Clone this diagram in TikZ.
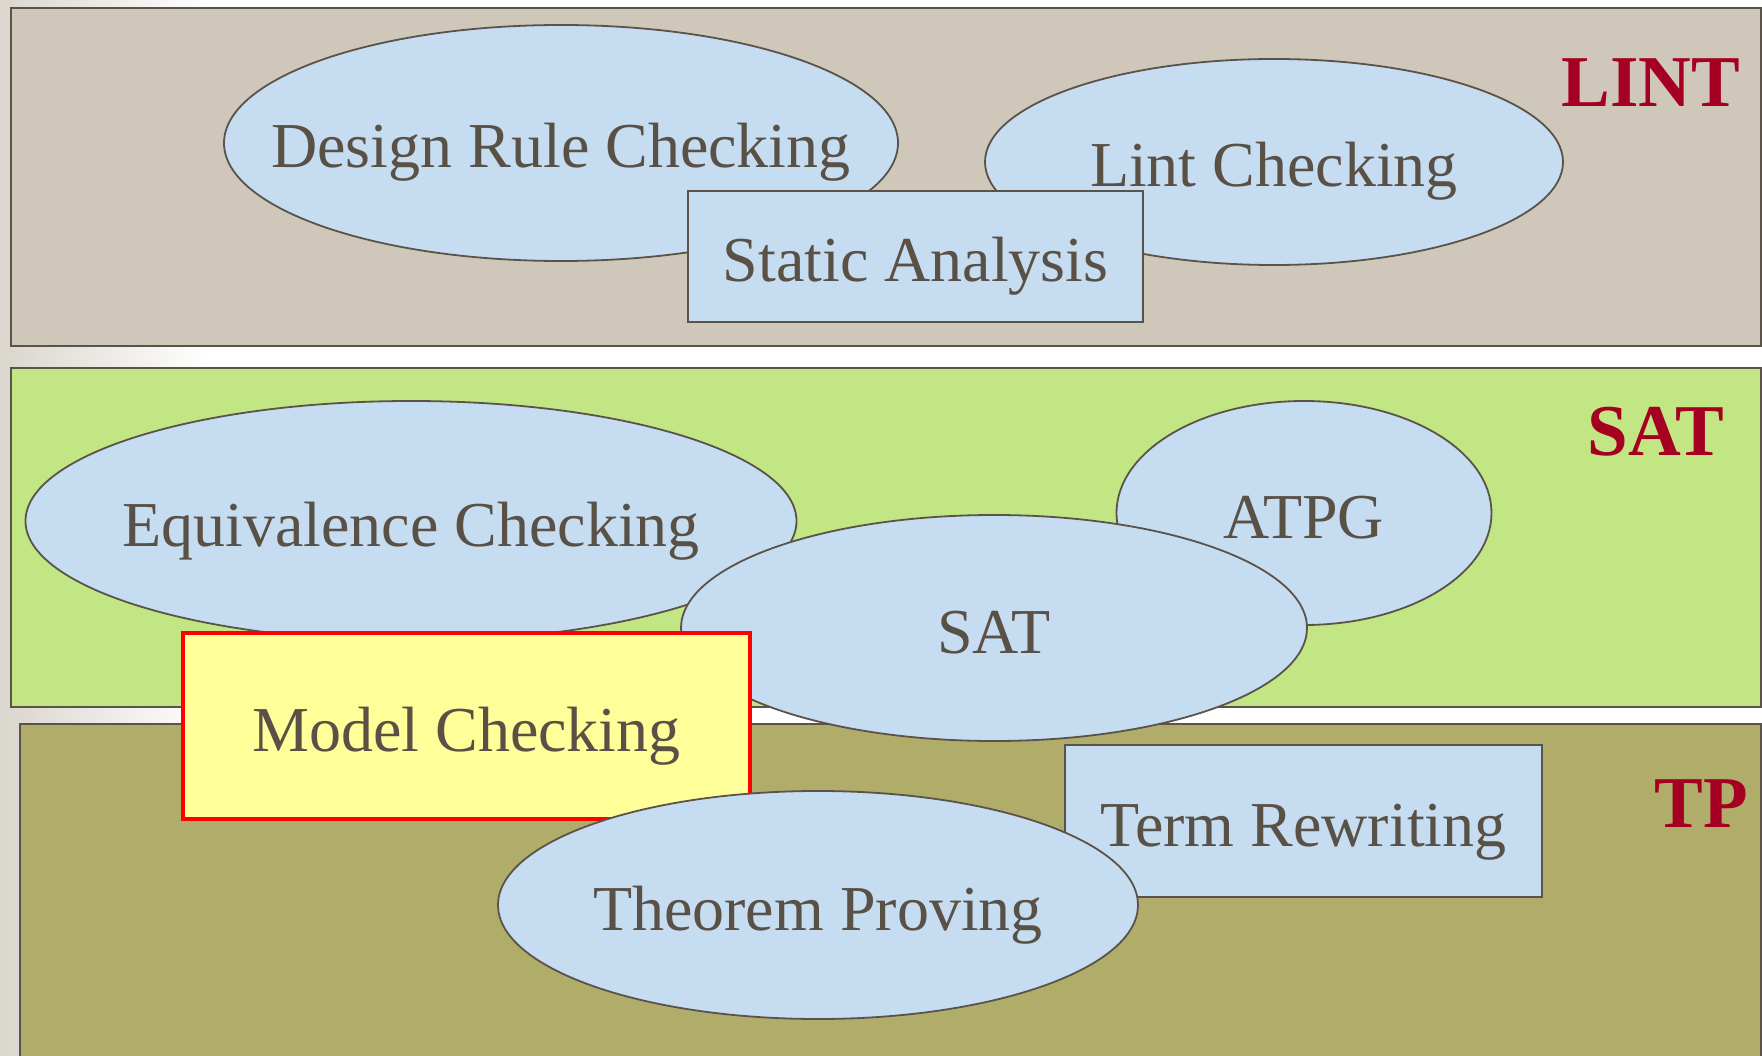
\documentclass[tikz,border=0pt]{standalone}
\usepackage{fontspec}
\setmainfont{Liberation Serif}
\usetikzlibrary{shapes.geometric}

\definecolor{gris}{HTML}{DAD6CE}
\definecolor{lintfondo}{HTML}{CFC8BA}
\definecolor{satfondo}{HTML}{C2E684}
\definecolor{tpfondo}{HTML}{B0AD6B}
\definecolor{azul}{HTML}{C6DCF0}
\definecolor{amarillo}{HTML}{FFFF99}
\definecolor{borde}{HTML}{5B534A}
\definecolor{texto}{HTML}{595046}
\definecolor{rojo}{HTML}{A50021}

\tikzset{
  banda/.style={draw=borde, line width=1.8pt},
  burbuja/.style={ellipse, draw=borde, fill=azul, line width=1.8pt, inner sep=0pt,
    text=texto, font=\fontsize{64}{70}\selectfont, text height=50pt, text depth=0pt},
  caja/.style={rectangle, draw=borde, fill=azul, line width=1.8pt, inner sep=0pt,
    text=texto, font=\fontsize{64}{70}\selectfont, text height=50pt, text depth=0pt},
  marca/.style={text=rojo, font=\bfseries\fontsize{73}{80}\selectfont, inner sep=0pt, anchor=base}
}

\begin{document}
\begin{tikzpicture}[x=1pt, y=-1pt]
    \useasboundingbox (0,0) rectangle (1762,1056);

    % Fondo
    \fill[white] (0,0) rectangle (1762,1056);
    \shade[left color=gris, right color=white] (0,0) rectangle (210,1056);
    \shade[left color=gris, right color=gris!60] (0,0) rectangle (86,8);

    % Banda LINT
    \draw[banda, fill=lintfondo] (11,8) rectangle (1761,346);
    \node[marca] (lint) at (1651,107) {LINT};

    % Banda SAT
    \draw[banda, fill=satfondo] (11,368) rectangle (1761,707);
    \node[marca] (sat) at (1656,455) {SAT};

    % Banda TP
    \draw[banda, fill=tpfondo] (20,724) rectangle (1761,1062);
    \node[marca] (tp) at (1701,827) {TP};

    % Analisis estatico
    \node[burbuja, minimum width=674, minimum height=236] (drc) at (561,143) {\makebox[0pt]{Design Rule Checking}};
    \node[burbuja, minimum width=578, minimum height=206] (lintchk) at (1274,162) {\makebox[0pt]{Lint Checking}};
    \node[caja, minimum width=455, minimum height=131] (static) at (915.5,256.5) {Static Analysis};

    % Tecnicas SAT
    \node[burbuja, minimum width=771, minimum height=240] (equiv) at (411,521) {\makebox[0pt]{Equivalence Checking}};
    \node[burbuja, minimum width=375, minimum height=224] (atpg) at (1304,513) {\makebox[0pt]{ATPG}};
    \node[burbuja, minimum width=626, minimum height=226] (satnodo) at (994,628) {\makebox[0pt]{SAT}};
    \node[caja, fill=amarillo, draw=red, line width=4pt, minimum width=567, minimum height=186] (model) at (466.5,726) {Model Checking};

    % Demostracion
    \node[caja, minimum width=477, minimum height=152] (term) at (1303.5,821) {Term Rewriting};
    \node[burbuja, minimum width=640, minimum height=228] (theorem) at (818,905) {\makebox[0pt]{Theorem Proving}};
\end{tikzpicture}
\end{document}
